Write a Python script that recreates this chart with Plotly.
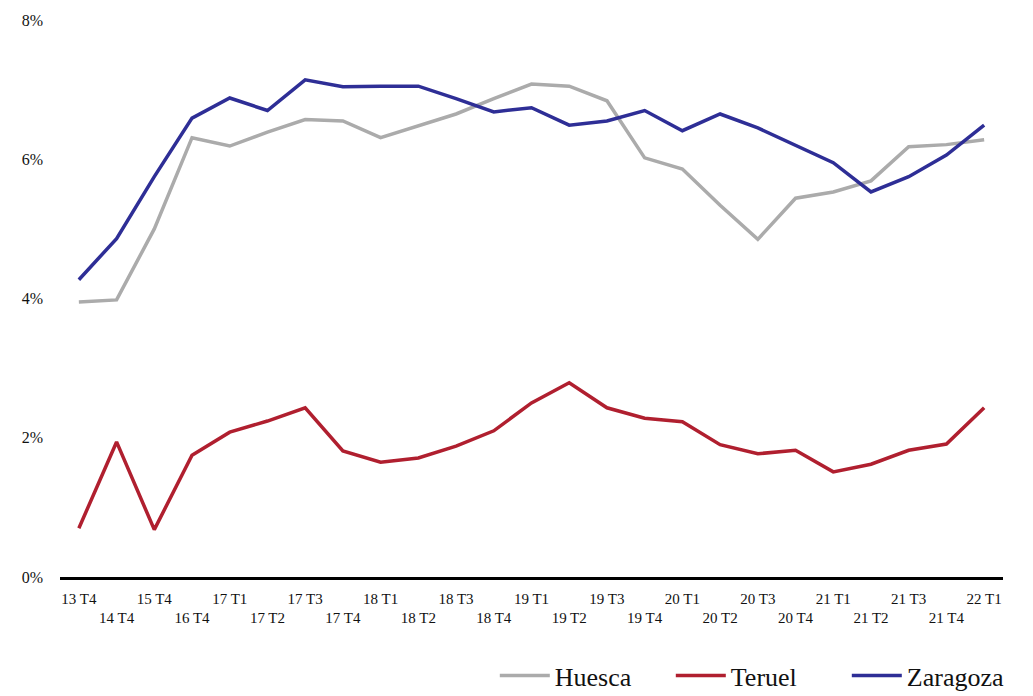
import plotly.graph_objects as go

# Quarterly series (share, %)
quarters = ["13 T4", "14 T4", "15 T4", "16 T4", "17 T1", "17 T2", "17 T3", "17 T4",
            "18 T1", "18 T2", "18 T3", "18 T4", "19 T1", "19 T2", "19 T3", "19 T4",
            "20 T1", "20 T2", "20 T3", "20 T4", "21 T1", "21 T2", "21 T3", "21 T4", "22 T1"]

huesca = [3.95, 3.98, 5.00, 6.31, 6.19, 6.39, 6.57, 6.55, 6.31, 6.48, 6.65, 6.87,
          7.08, 7.05, 6.84, 6.02, 5.86, 5.34, 4.85, 5.44, 5.53, 5.69, 6.18, 6.21, 6.28]

teruel = [0.70, 1.94, 0.68, 1.75, 2.08, 2.24, 2.43, 1.81, 1.65, 1.71, 1.88, 2.10,
          2.50, 2.79, 2.43, 2.28, 2.23, 1.90, 1.77, 1.82, 1.51, 1.62, 1.82, 1.91, 2.43]

zaragoza = [4.27, 4.86, 5.75, 6.59, 6.88, 6.70, 7.14, 7.04, 7.05, 7.05, 6.87, 6.68,
            6.74, 6.49, 6.55, 6.70, 6.41, 6.65, 6.45, 6.20, 5.95, 5.53, 5.75, 6.06, 6.49]

y_ticks = [0, 2, 4, 6, 8]
y_tick_labels = ["0%", "2%", "4%", "6%", "8%"]

series = [("Huesca", huesca, "#ababab"),
          ("Teruel", teruel, "#b01f2f"),
          ("Zaragoza", zaragoza, "#2e2e96")]

SERIF = "'Liberation Serif', 'Times New Roman', serif"

# Alternate tick labels between two rows
tick_text = [q if i % 2 == 0 else "<br>" + q for i, q in enumerate(quarters)]
x_idx = list(range(len(quarters)))

fig = go.Figure()
for name, vals, color in series:
    fig.add_trace(go.Scatter(
        x=x_idx, y=vals, name=name, mode="lines",
        line=dict(color=color, width=3.5),
    ))

fig.update_layout(
    width=1033, height=696,
    paper_bgcolor="white", plot_bgcolor="white",
    margin=dict(l=60, r=30, t=20, b=119, autoexpand=False),
    font=dict(family=SERIF, color="#111111"),
    showlegend=True,
    legend=dict(
        orientation="h", x=1.021, xanchor="right", y=-0.177, yanchor="middle",
        font=dict(size=26, family=SERIF, color="#111111"),
        itemwidth=50, traceorder="normal",
        entrywidth=111, entrywidthmode="pixels",
    ),
)

fig.update_xaxes(
    range=[-0.5, len(quarters) - 0.5],
    tickmode="array", tickvals=x_idx, ticktext=tick_text,
    tickfont=dict(size=15, family=SERIF, color="#111111"),
    showgrid=False, zeroline=False,
    showline=True, linecolor="#000000", linewidth=2.5,
    ticks="", ticklabelstandoff=6, automargin=False,
)

fig.update_yaxes(
    range=[0, 8],
    tickmode="array", tickvals=y_ticks, ticktext=y_tick_labels,
    tickfont=dict(size=16, family=SERIF, color="#111111"),
    showgrid=False, zeroline=False, showline=False,
    ticks="", ticklabelstandoff=16, automargin=False,
)

fig.write_html("out.html")
